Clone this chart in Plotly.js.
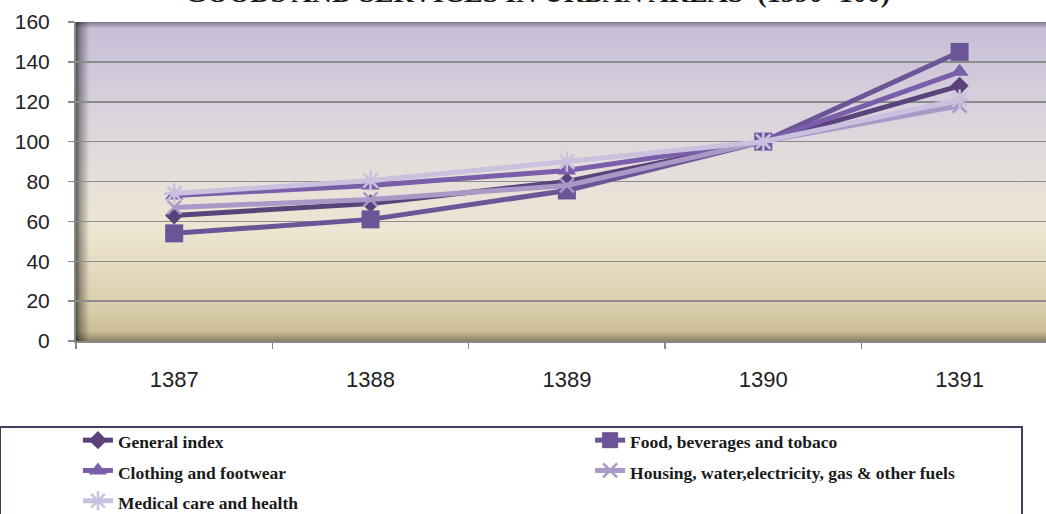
<!DOCTYPE html>
<html>
<head>
<meta charset="utf-8">
<script src="https://cdn.plot.ly/plotly-3.0.1.min.js"></script>
<style>html,body{margin:0;padding:0;background:#fff;}#chart{width:1046px;height:514px;}</style>
</head>
<body>
<div id="chart"></div>
<script>
const years = ['1387', '1388', '1389', '1390', '1391'];
const generalIndex = [63, 69, 80, 100, 128];
const foodBeverages = [54, 61, 75.5, 100, 145];
const clothingFootwear = [73, 78, 85.5, 100, 135];
const housingFuels = [67, 71, 78, 100, 118];
const medicalHealth = [74, 80.5, 90, 100, 121];

const seriesNames = ['General index', 'Food, beverages and tobaco', 'Clothing and footwear',
  'Housing, water,electricity, gas & other fuels', 'Medical care and health'];
const chartTitle = 'GOODS AND SERVICES IN URBAN AREAS  (1390=100)';

function mk(name, y, color, symbol, size, open, legendId) {
  const marker = {symbol: symbol, size: size, color: color};
  if (open) marker.line = {color: color, width: 2.5};
  else marker.line = {width: 0};
  return {
    type: 'scatter', mode: 'lines+markers', x: years, y: y,
    name: '<span style="font-size:17.5px">' + name + '</span>',
    legend: legendId,
    line: {color: color, width: 5}, marker: marker
  };
}

const traces = [
  mk(seriesNames[0], generalIndex, '#5a437a', 'diamond', 14, false, 'legend'),
  mk(seriesNames[1], foodBeverages, '#6c5596', 'square', 18, false, 'legend2'),
  mk(seriesNames[2], clothingFootwear, '#7b5eaa', 'triangle-up', 16, false, 'legend'),
  mk(seriesNames[3], housingFuels, '#a999c7', 'x-thin-open', 14, true, 'legend2'),
  mk(seriesNames[4], medicalHealth, '#c9c1dd', 'asterisk-open', 17, true, 'legend')
];

const bgSvg = "<svg xmlns='http://www.w3.org/2000/svg' width='970' height='319' viewBox='0 0 970 319' preserveAspectRatio='none'>" +
  "<defs>" +
  "<linearGradient id='v' x1='0' y1='0' x2='0' y2='1'>" +
  "<stop offset='0' stop-color='#c6bdd7'/>" +
  "<stop offset='0.3' stop-color='#dad4dd'/>" +
  "<stop offset='0.5' stop-color='#e6e0da'/>" +
  "<stop offset='0.65' stop-color='#ede6d2'/>" +
  "<stop offset='0.9' stop-color='#dacdab'/>" +
  "<stop offset='0.97' stop-color='#cbbd97'/>" +
  "<stop offset='1' stop-color='#8d8266'/>" +
  "</linearGradient>" +
  "<linearGradient id='l' x1='0' y1='0' x2='1' y2='0'>" +
  "<stop offset='0' stop-color='#000' stop-opacity='0.6'/>" +
  "<stop offset='0.004' stop-color='#000' stop-opacity='0.35'/>" +
  "<stop offset='0.014' stop-color='#000' stop-opacity='0'/>" +
  "</linearGradient>" +
  "<linearGradient id='t' x1='0' y1='0' x2='0' y2='1'>" +
  "<stop offset='0' stop-color='#000' stop-opacity='0.35'/>" +
  "<stop offset='0.02' stop-color='#000' stop-opacity='0'/>" +
  "</linearGradient>" +
  "</defs>" +
  "<rect width='970' height='319' fill='url(#v)'/>" +
  "<rect width='970' height='319' fill='url(#l)'/>" +
  "<rect width='970' height='319' fill='url(#t)'/>" +
  "</svg>";
const bgUri = 'data:image/svg+xml;charset=utf-8,' + encodeURIComponent(bgSvg);

const legendFont = {family: 'Liberation Serif, Times New Roman, serif', size: 21, color: '#1a1a1a', weight: 'bold'};

const layout = {
  width: 1046, height: 514,
  margin: {l: 76, r: 0, t: 22, b: 173, autoexpand: false},
  paper_bgcolor: '#ffffff',
  plot_bgcolor: 'rgba(0,0,0,0)',
  showlegend: true,
  annotations: [{
    text: chartTitle, showarrow: false,
    xref: 'paper', yref: 'paper', x: (537 - 76) / 970, xanchor: 'center',
    y: 1, yanchor: 'middle', yshift: 30,
    font: {family: 'Liberation Serif, Times New Roman, serif', size: 28, color: '#1a1a1a', weight: 'bold'}
  }],
  xaxis: {
    type: 'category', range: [-0.5, 4.44], fixedrange: true,
    tickson: 'boundaries', ticks: 'outside', ticklen: 6, tickwidth: 1.5, tickcolor: '#888',
    showline: true, linecolor: '#888', linewidth: 2,
    showgrid: false, zeroline: false,
    ticklabelstandoff: 18,
    tickfont: {family: 'Liberation Sans, Arial, sans-serif', size: 22, color: '#222'}
  },
  yaxis: {
    range: [0, 160], dtick: 20, tick0: 0, fixedrange: true,
    ticks: 'outside', ticklen: 6, tickwidth: 1.5, tickcolor: '#888',
    showline: true, linecolor: '#888', linewidth: 2,
    showgrid: true, gridcolor: '#8c8c8c', gridwidth: 1.5, zeroline: false,
    ticklabelstandoff: 14,
    tickfont: {family: 'Liberation Sans, Arial, sans-serif', size: 21, color: '#222'}
  },
  images: [{
    source: bgUri, xref: 'paper', yref: 'paper', x: 0, y: 1, sizex: 1, sizey: 1,
    xanchor: 'left', yanchor: 'top', sizing: 'stretch', layer: 'below'
  }],
  legend: {
    orientation: 'v', x: 0.002, xanchor: 'left', y: (341 - 420) / 319, yanchor: 'top',
    bgcolor: 'rgba(0,0,0,0)', borderwidth: 0, font: legendFont, traceorder: 'normal'
  },
  legend2: {
    orientation: 'v', x: 0.530, xanchor: 'left', y: (341 - 420) / 319, yanchor: 'top',
    bgcolor: 'rgba(0,0,0,0)', borderwidth: 0, font: legendFont, traceorder: 'normal'
  },
  shapes: [{
    type: 'rect', xref: 'paper', yref: 'paper',
    x0: -76 / 970, x1: (1022 - 76) / 970,
    y0: -0.7, y1: (341 - 427) / 319,
    line: {color: '#4a3a62', width: 2}, fillcolor: 'rgba(0,0,0,0)', layer: 'below'
  }]
};

Plotly.newPlot('chart', traces, layout, {displayModeBar: false, staticPlot: true});
</script>
</body>
</html>
